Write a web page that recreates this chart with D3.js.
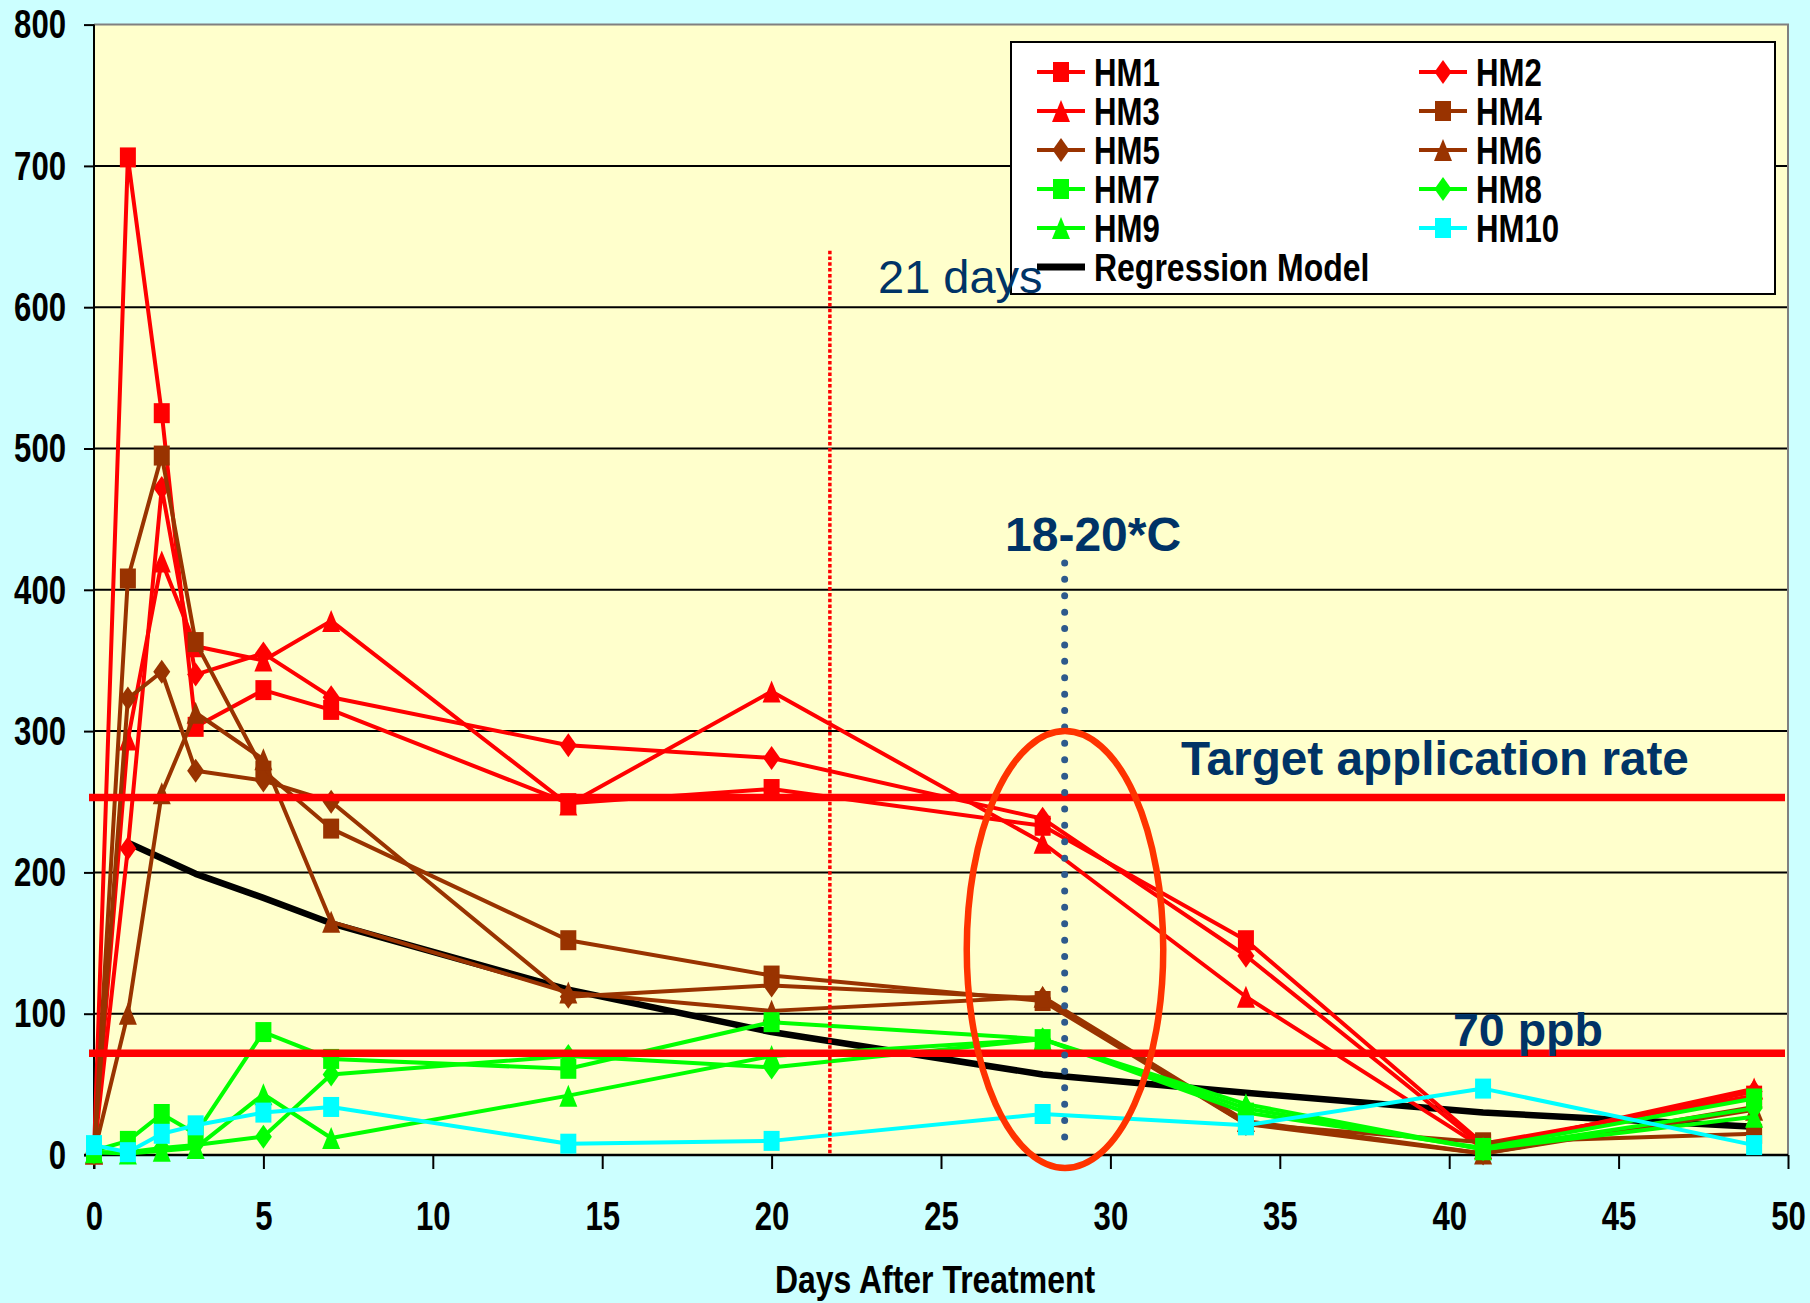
<!DOCTYPE html>
<html>
<head>
<meta charset="utf-8">
<script src="https://cdn.jsdelivr.net/npm/d3@7"></script>
<style>
  html, body { margin: 0; padding: 0; background: #CCFFFF; overflow: hidden; }
  svg { display: block; }
</style>
</head>
<body>
<script>
// ---------------- DATA ----------------
const days = [0, 1, 2, 3, 5, 7, 14, 20, 28, 34, 41, 49];
const HM1  = [2, 706, 525, 303, 329, 315, 249, 259, 233, 152, 8, 42];
const HM2  = [1, 217, 472, 340, 355, 324, 290, 281, 238, 141, 6, 45];
const HM3  = [1, 294, 420, 360, 350, 378, 248, 328, 221, 112, 5, 47];
const HM4  = [1, 408, 495, 363, 272, 231, 152, 127, 109, 22, 9, 15];
const HM5  = [1, 323, 342, 272, 265, 250, 112, 120, 111, 22, 1, 34];
const HM6  = [1, 100, 256, 313, 280, 165, 115, 102, 112, 24, 1, 32];
const HM7  = [3, 10, 29, 15, 87, 68, 61, 94, 82, 30, 5, 40];
const HM8  = [2, 2, 5, 7, 13, 57, 70, 62, 82, 33, 4, 33];
const HM9  = [2, 1, 3, 5, 43, 12, 42, 70, 82, 36, 4, 27];
const HM10 = [7, 2, 15, 21, 30, 34, 8, 10, 29, 21, 47, 7];
const regDays   = [1, 3, 5, 7, 14, 20, 28, 34, 41, 49];
const regValues = [221, 199, 182, 164, 117, 87, 57, 44, 30, 20];

const seriesNames  = ["HM1","HM2","HM3","HM4","HM5","HM6","HM7","HM8","HM9","HM10"];
const seriesValues = [HM1, HM2, HM3, HM4, HM5, HM6, HM7, HM8, HM9, HM10];
const seriesColors = ["#FF0000","#FF0000","#FF0000","#993300","#993300","#993300","#00FF00","#00FF00","#00FF00","#00FFFF"];
const seriesShapes = ["square","diamond","triangle","square","diamond","triangle","square","diamond","triangle","square"];
const regName = "Regression Model";

const xTicks = [0, 5, 10, 15, 20, 25, 30, 35, 40, 45, 50];
const yTicks = [0, 100, 200, 300, 400, 500, 600, 700, 800];
const xTitle = "Days After Treatment";

const targetRate = 253;   // "Target application rate" line
const ppbLine = 72;       // "70 ppb" line
const day21Line = 21.72;  const day21Top = 640;
const tempLine = 28.65;   const tempTop = 419; const tempBottom = 3;
const ellipseC = [28.66, 145.4]; const ellipseR = [2.9, 154.6];

// ---------------- LAYOUT ----------------
const W = 1810, H = 1303;
const x = d3.scaleLinear().domain([0, 50]).range([94, 1788]);
const y = d3.scaleLinear().domain([0, 800]).range([1155, 24.6]);
const FONT = "'Liberation Sans', Arial, Helvetica, sans-serif";
const NAVY = "#003366";

const svg = d3.select("body").append("svg").attr("width", W).attr("height", H);
svg.append("rect").attr("width", W).attr("height", H).attr("fill", "#CCFFFF");

// plot area
svg.append("rect")
  .attr("x", x(0)).attr("y", y(800))
  .attr("width", x(50) - x(0)).attr("height", y(0) - y(800))
  .attr("fill", "#FFFFCC");

// gridlines
svg.append("g").selectAll("line").data(yTicks.filter(v => v > 0 && v < 800)).join("line")
  .attr("x1", x(0)).attr("x2", x(50))
  .attr("y1", d => y(d)).attr("y2", d => y(d))
  .attr("stroke", "#000").attr("stroke-width", 2);
// top & right border (grey)
svg.append("path")
  .attr("d", `M${x(0)},${y(800)}H${x(50)}V${y(0)}`)
  .attr("fill", "none").attr("stroke", "#808080").attr("stroke-width", 2);

// Y axis
const yAxis = svg.append("g").attr("transform", `translate(${x(0)},0)`)
  .call(d3.axisLeft(y).tickValues(yTicks).tickSize(10).tickPadding(18).tickFormat(d3.format("d")));
yAxis.select(".domain").remove();
yAxis.selectAll(".tick line").attr("stroke", "#000").attr("stroke-width", 2);
yAxis.selectAll(".tick text")
  .attr("font-family", FONT).attr("font-weight", "bold").attr("font-size", 41.5).attr("fill", "#000")
  .attr("transform", "scale(0.75,1)").attr("x", -28 / 0.75);

// X axis
const xAxis = svg.append("g").attr("transform", `translate(0,${y(0)})`)
  .call(d3.axisBottom(x).tickValues(xTicks).tickSize(14).tickPadding(32).tickFormat(d3.format("d")));
xAxis.select(".domain").remove();
xAxis.selectAll(".tick line").attr("stroke", "#000").attr("stroke-width", 2);
xAxis.selectAll(".tick text")
  .attr("font-family", FONT).attr("font-weight", "bold").attr("font-size", 41.5).attr("fill", "#000")
  .attr("transform", "scale(0.75,1)");

// axis lines
svg.append("line").attr("x1", x(0)).attr("x2", x(0)).attr("y1", y(800)).attr("y2", y(0) + 14)
  .attr("stroke", "#000").attr("stroke-width", 2);
svg.append("line").attr("x1", x(0) - 10).attr("x2", x(50)).attr("y1", y(0)).attr("y2", y(0))
  .attr("stroke", "#000").attr("stroke-width", 2.5);

// condensed text helper
function ctext(parent, str, px, py, size, sx, anchor, weight, fill) {
  return parent.append("text")
    .attr("transform", `translate(${px},${py}) scale(${sx},1)`)
    .attr("text-anchor", anchor).attr("font-family", FONT)
    .attr("font-weight", weight).attr("font-size", size).attr("fill", fill)
    .text(str);
}

// axis title
ctext(svg, xTitle, 935, 1293, 38.5, 0.83, "middle", "bold", "#000");

// marker shapes
function markerPath(shape) {
  if (shape === "square") { const w = 16, h = 20; return `M${-w/2},${-h/2}h${w}v${h}h${-w}Z`; }
  if (shape === "diamond") { const w = 17, h = 24; return `M0,${-h/2}L${w/2},0L0,${h/2}L${-w/2},0Z`; }
  const w = 18, h = 22; return `M0,${-h/2}L${w/2},${h/2}L${-w/2},${h/2}Z`;
}

const line = d3.line().x(d => x(d[0])).y(d => y(d[1]));

// regression model
svg.append("path")
  .attr("d", line(regDays.map((d, i) => [d, regValues[i]])))
  .attr("fill", "none").attr("stroke", "#000").attr("stroke-width", 6.5).attr("stroke-linejoin", "round");

// series
seriesValues.forEach((vals, si) => {
  const pts = days.map((d, i) => [d, vals[i]]);
  const g = svg.append("g");
  g.append("path").attr("d", line(pts))
    .attr("fill", "none").attr("stroke", seriesColors[si]).attr("stroke-width", 4)
    .attr("stroke-linejoin", "round");
  g.selectAll("path.m").data(pts).join("path").attr("class", "m")
    .attr("d", markerPath(seriesShapes[si]))
    .attr("transform", d => `translate(${x(d[0])},${y(d[1])})`)
    .attr("fill", seriesColors[si]);
});

// horizontal red lines
[targetRate, ppbLine].forEach(v => {
  svg.append("line").attr("x1", x(0) - 5).attr("x2", x(50) - 3)
    .attr("y1", y(v)).attr("y2", y(v))
    .attr("stroke", "#FF0000").attr("stroke-width", 7.5);
});

// 21-day red dotted line
svg.append("line").attr("x1", x(day21Line)).attr("x2", x(day21Line))
  .attr("y1", y(day21Top)).attr("y2", y(0))
  .attr("stroke", "#FF0000").attr("stroke-width", 3.5).attr("stroke-dasharray", "3.5 2.3");

// temperature blue dotted line
svg.append("line").attr("x1", x(tempLine)).attr("x2", x(tempLine))
  .attr("y1", y(tempTop)).attr("y2", y(tempBottom))
  .attr("stroke", "#2E5A8C").attr("stroke-width", 7).attr("stroke-linecap", "round")
  .attr("stroke-dasharray", "0 16.4");

// ellipse
svg.append("ellipse")
  .attr("cx", x(ellipseC[0])).attr("cy", y(ellipseC[1]))
  .attr("rx", x(ellipseR[0]) - x(0)).attr("ry", y(0) - y(ellipseR[1]))
  .attr("fill", "none").attr("stroke", "#FF3300").attr("stroke-width", 6.5);

// annotations
svg.append("text").attr("x", 1005).attr("y", 551).attr("font-family", FONT).attr("font-weight", "bold")
  .attr("font-size", 48).attr("fill", NAVY).text("18-20*C");
svg.append("text").attr("x", 1181).attr("y", 775).attr("font-family", FONT).attr("font-weight", "bold")
  .attr("font-size", 47.7).attr("fill", NAVY).text("Target application rate");
svg.append("text").attr("x", 1453).attr("y", 1046).attr("font-family", FONT).attr("font-weight", "bold")
  .attr("font-size", 46.5).attr("fill", NAVY).text("70 ppb");

// legend
const lg = svg.append("g");
lg.append("rect").attr("x", 1011).attr("y", 42).attr("width", 764).attr("height", 252)
  .attr("fill", "#FFFFFF").attr("stroke", "#000").attr("stroke-width", 2);
const colX = [1037, 1419];
const rowY = i => 72 + 39 * i;
seriesNames.forEach((name, si) => {
  const col = si % 2, row = Math.floor(si / 2);
  const lx = colX[col], ly = rowY(row);
  lg.append("line").attr("x1", lx).attr("x2", lx + 48).attr("y1", ly).attr("y2", ly)
    .attr("stroke", seriesColors[si]).attr("stroke-width", 4);
  lg.append("path").attr("d", markerPath(seriesShapes[si]))
    .attr("transform", `translate(${lx + 24},${ly})`).attr("fill", seriesColors[si]);
  ctext(lg, name, lx + 57, ly + 14, 39, 0.8, "start", "bold", "#000");
});
lg.append("line").attr("x1", colX[0]).attr("x2", colX[0] + 48).attr("y1", rowY(5)).attr("y2", rowY(5))
  .attr("stroke", "#000").attr("stroke-width", 7);
ctext(lg, regName, colX[0] + 57, rowY(5) + 14, 39, 0.82, "start", "bold", "#000");

// "21 days" label (drawn over legend)
svg.append("text").attr("x", 878).attr("y", 293).attr("font-family", FONT).attr("font-weight", "normal")
  .attr("font-size", 47).attr("fill", NAVY).text("21 days");
</script>
</body>
</html>
